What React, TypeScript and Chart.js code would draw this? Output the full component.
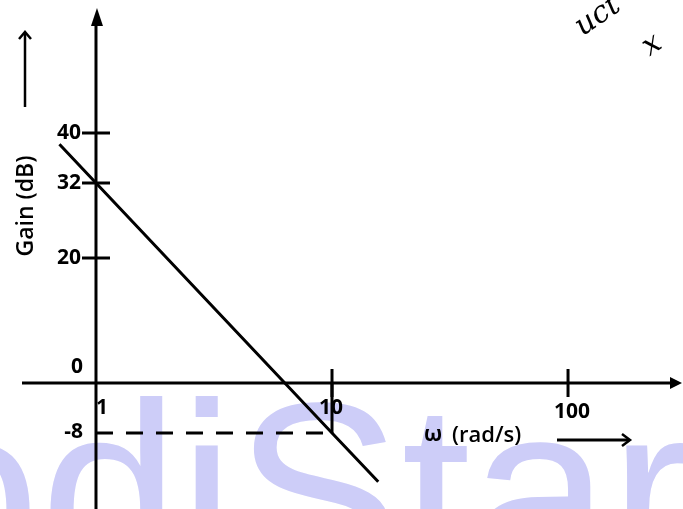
import React, { useEffect, useRef } from "react";
import { Chart, registerables } from "chart.js";

Chart.register(...registerables);

// ---- data ----
const omega = [0.7, 1, 10, 15.7];
const gainDb = [38.2, 32, -8, -15.8];
const markerOmega = [1, 10];
const markerGain = [-8, -8];
const dropOmega = [10, 10];
const dropGain = [-8, 0];
const yTickValues = [40, 32, 20];
const yTickLabels = ["40", "32", "20"];
const xTickValues = [1, 10, 100];
const xTickLabels = ["1", "10", "100"];
const xAxisSymbol = "ω";
const xAxisTitle = "(rad/s)";
const yAxisTitle = "Gain (dB)";
const watermarkText = "odiStar";
const scribbles = ["uct", "x"];

const X_MIN = 0.392;
const X_MAX = 307;
const Y_MIN = -20.16;
const Y_MAX = 61.28;

const FONT = '"Open Sans", "DejaVu Sans", sans-serif';

const drawPlugin = {
  id: "bodeDecor",
  beforeDatasetsDraw(chart: any) {
    const ctx: CanvasRenderingContext2D = chart.ctx;
    const xs = chart.scales.x;
    const ys = chart.scales.y;
    const W = chart.width;
    const H = chart.height;
    const x0 = xs.getPixelForValue(1);
    const y0 = ys.getPixelForValue(0);

    ctx.save();
    // watermark
    ctx.fillStyle = "#cdcdf8";
    ctx.font = '250px "Liberation Sans", Arial, sans-serif';
    ctx.textBaseline = "alphabetic";
    ctx.textAlign = "left";
    ctx.fillText(watermarkText, -99, 578);

    ctx.strokeStyle = "#000";
    ctx.fillStyle = "#000";
    ctx.lineWidth = 3;
    ctx.lineCap = "butt";

    // y axis with filled arrow
    ctx.beginPath();
    ctx.moveTo(x0, H);
    ctx.lineTo(x0, 22);
    ctx.stroke();
    ctx.beginPath();
    ctx.moveTo(x0 + 1, 8);
    ctx.lineTo(x0 - 5, 26);
    ctx.lineTo(x0 + 7, 26);
    ctx.closePath();
    ctx.fill();

    // x axis with filled arrow
    ctx.beginPath();
    ctx.moveTo(22, y0);
    ctx.lineTo(W - 10, y0);
    ctx.stroke();
    ctx.beginPath();
    ctx.moveTo(W - 1, y0);
    ctx.lineTo(W - 13, y0 - 6);
    ctx.lineTo(W - 13, y0 + 6);
    ctx.closePath();
    ctx.fill();

    // y ticks
    yTickValues.forEach((v) => {
      const y = ys.getPixelForValue(v);
      ctx.beginPath();
      ctx.moveTo(x0 - 14, y);
      ctx.lineTo(x0 + 14, y);
      ctx.stroke();
    });
    // x ticks (skip the origin)
    xTickValues.slice(1).forEach((v) => {
      const x = xs.getPixelForValue(v);
      ctx.beginPath();
      ctx.moveTo(x, y0 - 14);
      ctx.lineTo(x, y0 + 14);
      ctx.stroke();
    });

    // tick labels
    ctx.font = `700 21px ${FONT}`;
    ctx.textBaseline = "middle";
    ctx.textAlign = "right";
    yTickLabels.forEach((t, i) => {
      ctx.fillText(t, x0 - 15, ys.getPixelForValue(yTickValues[i]));
    });
    ctx.fillText("0", x0 - 13, y0 - 16);
    ctx.fillText(String(markerGain[0]), x0 - 13, ys.getPixelForValue(markerGain[0]) - 1);
    ctx.textAlign = "center";
    xTickLabels.forEach((t, i) => {
      const v = xTickValues[i];
      const off = v === 1 ? 6 : v === 10 ? -1 : 4;
      ctx.fillText(t, xs.getPixelForValue(v) + off, y0 + (v === 100 ? 29 : 25));
    });

    // y axis title
    ctx.save();
    ctx.translate(26, 206);
    ctx.rotate(-Math.PI / 2);
    ctx.font = `600 23px ${FONT}`;
    ctx.textAlign = "center";
    ctx.fillText(yAxisTitle, 0, 0);
    ctx.restore();
    // y title arrow
    ctx.lineWidth = 2.5;
    ctx.beginPath();
    ctx.moveTo(25, 107);
    ctx.lineTo(25, 33);
    ctx.stroke();
    ctx.beginPath();
    ctx.moveTo(19, 39);
    ctx.lineTo(25, 32);
    ctx.lineTo(31, 39);
    ctx.stroke();

    // x axis title
    ctx.font = `700 21px ${FONT}`;
    ctx.textAlign = "center";
    ctx.fillText(xAxisSymbol, 433, 435);
    ctx.font = `600 22px ${FONT}`;
    ctx.textAlign = "left";
    ctx.fillText(xAxisTitle, 452, 436);
    ctx.lineWidth = 3;
    ctx.beginPath();
    ctx.moveTo(557, 440);
    ctx.lineTo(629, 440);
    ctx.stroke();
    ctx.lineWidth = 2.5;
    ctx.beginPath();
    ctx.moveTo(622, 434);
    ctx.lineTo(630, 440);
    ctx.lineTo(622, 446);
    ctx.stroke();

    // handwritten scribbles
    ctx.font = `italic 30px "DejaVu Serif", serif`;
    ctx.textAlign = "left";
    ctx.save();
    ctx.translate(578, 30);
    ctx.rotate(-0.6);
    ctx.fillText(scribbles[0], 0, 0);
    ctx.restore();
    ctx.save();
    ctx.translate(645, 50);
    ctx.rotate(-0.6);
    ctx.fillText(scribbles[1], 0, 0);
    ctx.restore();

    ctx.restore();
  },
};

export default function App() {
  const ref = useRef<HTMLCanvasElement | null>(null);
  useEffect(() => {
    if (!ref.current) return;
    const chart = new Chart(ref.current, {
      type: "line",
      data: {
        datasets: [
          {
            data: omega.map((x, i) => ({ x, y: gainDb[i] })),
            borderColor: "#000",
            borderWidth: 3,
            pointRadius: 0,
            tension: 0,
          },
          {
            data: markerOmega.map((x, i) => ({ x, y: markerGain[i] })),
            borderColor: "#000",
            borderWidth: 3,
            borderDash: [17, 13],
            pointRadius: 0,
          },
          {
            data: dropOmega.map((x, i) => ({ x, y: dropGain[i] })),
            borderColor: "#000",
            borderWidth: 3,
            pointRadius: 0,
          },
        ],
      },
      options: {
        animation: false,
        responsive: false,
        devicePixelRatio: 1,
        layout: { padding: 0, autoPadding: false },
        plugins: { legend: { display: false }, tooltip: { enabled: false } },
        events: [],
        scales: {
          x: { type: "logarithmic", min: X_MIN, max: X_MAX, display: false },
          y: { type: "linear", min: Y_MIN, max: Y_MAX, display: false },
        },
      },
      plugins: [drawPlugin],
    } as any);
    return () => chart.destroy();
  }, []);
  return (
    <div style={{ position: "fixed", left: 0, top: 0, width: 683, height: 509, background: "#fff" }}>
      <canvas ref={ref} width={683} height={509} style={{ display: "block" }} />
    </div>
  );
}
